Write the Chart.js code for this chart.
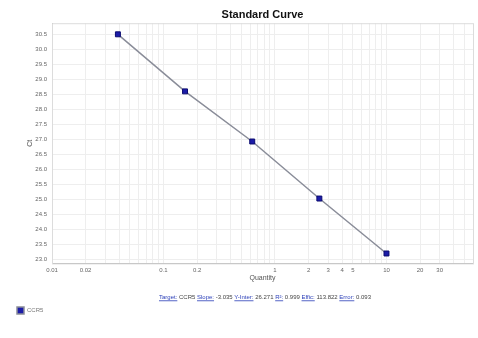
<!DOCTYPE html>
<html lang="en">
  <head>
    <meta charset="UTF-8" />
    <title>Standard Curve</title>
    <style>
      html, body { margin: 0; padding: 0; background: #fff; }
      #wrap { width: 478px; height: 338px; }
    </style>
  </head>
  <body>
    <script src="https://cdn.jsdelivr.net/npm/chart.js"></script>
    <div id="wrap"><canvas id="myChart" width="478" height="338"></canvas></div>
    <script>
      // standard dilution points (4x series)
      const quantities = [0.039, 0.156, 0.625, 2.5, 10];
      const ctValues = [30.5, 28.6, 26.93, 25.03, 23.2];

      const xTickValues = [0.01, 0.02, 0.03, 0.04, 0.05, 0.06, 0.07, 0.08, 0.09,
        0.1, 0.2, 0.3, 0.4, 0.5, 0.6, 0.7, 0.8, 0.9,
        1, 2, 3, 4, 5, 6, 7, 8, 9, 10, 20, 30, 40, 50];
      const xTickLabels = ["0.01", "0.02", "0.1", "0.2", "1", "2", "3", "4", "5", "10", "20", "30"];
      const yTickValues = [23.0, 23.5, 24.0, 24.5, 25.0, 25.5, 26.0, 26.5, 27.0,
        27.5, 28.0, 28.5, 29.0, 29.5, 30.0, 30.5];

      const statsParts = [
        ["Target:", " CCR5 "], ["Slope:", " -3.035 "], ["Y-Inter:", " 26.271 "],
        ["R\u00B2:", " 0.999 "], ["Effic:", " 113.822 "], ["Error:", " 0.093"]
      ];

      const FONT = "'Liberation Sans', Arial, sans-serif";

      const plotFrame = {
        id: "plotFrame",
        beforeDatasetsDraw(chart) {
          const { ctx, chartArea: a } = chart;
          ctx.save();
          ctx.strokeStyle = "#dcdcdc";
          ctx.lineWidth = 1;
          ctx.strokeRect(a.left + 0.5, a.top + 0.5, a.right - a.left, a.bottom - a.top);
          ctx.restore();
        },
      };

      const statsLine = {
        id: "statsLine",
        afterDraw(chart) {
          const { ctx, chartArea: a } = chart;
          ctx.save();
          ctx.font = "6px " + FONT;
          ctx.textBaseline = "middle";
          let total = 0;
          statsParts.forEach((p) => { total += ctx.measureText(p[0]).width + ctx.measureText(p[1]).width; });
          let x = 265 - total / 2;
          const y = a.bottom + 34;
          statsParts.forEach((p) => {
            const w0 = ctx.measureText(p[0]).width;
            ctx.fillStyle = "#2b3fb8";
            ctx.fillText(p[0], x, y);
            ctx.fillRect(x, y + 3, w0, 0.8);
            x += w0;
            ctx.fillStyle = "#444";
            ctx.fillText(p[1], x, y);
            x += ctx.measureText(p[1]).width;
          });
          ctx.restore();
        },
      };

      new Chart("myChart", {
        type: "scatter",
        data: {
          datasets: [
            {
              label: "CCR5",
              data: quantities.map((q, i) => ({ x: q, y: ctValues[i] })),
              showLine: true,
              borderColor: "#8a8d99",
              borderWidth: 1.5,
              backgroundColor: "#1c1ca8",
              pointStyle: "rect",
              pointRadius: 3.5,
              pointBorderColor: "#0c0c70",
              pointBorderWidth: 1,
            },
          ],
        },
        options: {
          responsive: false,
          animation: false,
          layout: { padding: { left: 0, right: 0, top: 0, bottom: 14 } },
          plugins: {
            title: {
              display: true,
              text: "Standard Curve",
              fullSize: false,
              color: "#111",
              font: { family: FONT, size: 11, weight: "bold" },
              padding: { top: 8, bottom: 2 },
            },
            legend: {
              display: true,
              position: "bottom",
              align: "start",
              labels: {
                boxWidth: 7,
                boxHeight: 7,
                padding: 17,
                color: "#777",
                font: { family: FONT, size: 6 },
              },
            },
            tooltip: { enabled: false },
          },
          scales: {
            x: {
              type: "logarithmic",
              min: 0.01,
              max: 59.7,
              afterBuildTicks: (scale) => {
                scale.ticks = xTickValues.map((v) => ({ value: v }));
              },
              ticks: {
                autoSkip: false,
                maxRotation: 0,
                padding: 3,
                color: "#666",
                font: { family: FONT, size: 6 },
                callback: (v) => {
                  const s = String(Number(v.toPrecision(3)));
                  return xTickLabels.includes(s) ? s : "";
                },
              },
              grid: { color: "#eeeeee", drawTicks: false },
              border: { color: "#aaa" },
              title: {
                display: true,
                text: "Quantity",
                color: "#555",
                font: { family: FONT, size: 7 },
                padding: { top: -3, bottom: 8 },
              },
            },
            y: {
              min: 22.87,
              max: 30.87,
              afterBuildTicks: (scale) => {
                scale.ticks = yTickValues.map((v) => ({ value: v }));
              },
              afterFit: (scale) => {
                scale.width = 52;
              },
              ticks: {
                padding: 5,
                color: "#666",
                font: { family: FONT, size: 6 },
                callback: (v) => v.toFixed(1),
              },
              grid: { color: "#eeeeee", drawTicks: false },
              border: { color: "#aaa" },
              title: {
                display: true,
                text: "Ct",
                color: "#555",
                font: { family: FONT, size: 7 },
                padding: { top: 26, bottom: 0 },
              },
            },
          },
        },
        plugins: [plotFrame, statsLine],
      });
    </script>
  </body>
</html>
